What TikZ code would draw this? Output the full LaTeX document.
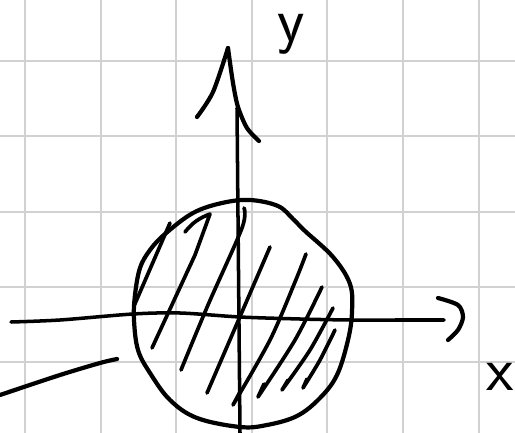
\documentclass[tikz,border=0pt]{standalone}
\usetikzlibrary{positioning}

\tikzset{
  gridline/.style={draw=black!18, line width=1.1pt},
  ink/.style={line width=2pt, line cap=round, line join=round},
  thickink/.style={line width=2.4pt, line cap=round, line join=round},
  hatchline/.style={line width=2.1pt, line cap=round, line join=round},
  lbl/.style={font=\sffamily\fontsize{36}{40}\selectfont, inner sep=0pt}
}

\begin{document}
\begin{tikzpicture}[x=0.02cm, y=-0.02cm]
\useasboundingbox (0,0) rectangle (515,433);
\fill[white] (0,0) rectangle (515,433);

\foreach \gx in {25,100.7,176.3,252,327.3,403,479}
  \draw[gridline] (\gx,0) -- (\gx,433);
\foreach \gy in {60.7,136,211.7,287,362.3}
  \draw[gridline] (0,\gy) -- (515,\gy);

\draw[thickink] plot[smooth cycle, tension=0.6] coordinates {
  (250,200) (278,206) (293,219) (305,231) (333,257) (350,284) (352,312)
  (348,340) (337,375) (320,398) (297,416) (267,425) (240,427) (197,418)
  (170,400) (150,373) (138,350) (134,320) (135,295) (140,268) (150,250)
  (165,234) (193,213) (222,203)};

\draw[hatchline] (134,306) -- (170,223);
\draw[hatchline] (185,232) to[bend left=15] (210,214) -- (195,255) -- (152,348);
\draw[hatchline] plot[smooth] coordinates {(244,208) (242,228) (208,305) (181,370)};
\draw[hatchline] plot[smooth] coordinates {(270,247) (245,305) (207,393)};
\draw[hatchline] plot[smooth] coordinates {(306,254) (295,282) (270,340) (233,405)} -- (241,390);
\draw[hatchline] plot[smooth] coordinates {(322,287) (295,340) (258,397)} -- (264,384);
\draw[hatchline] plot[smooth] coordinates {(333,308) (310,350) (282,390)} -- (288,380);
\draw[hatchline] plot[smooth] coordinates {(335,330) (320,360) (303,388)} -- (307,379);

\draw[ink] plot[smooth] coordinates {(11,322) (60,320) (133,314) (180,313) (240,317)
  (300,319) (350,320) (400,320) (444,320)};
\draw[thickink] plot[smooth] coordinates {(438,298) (458,305) (463,317) (458,330) (448,340)};

\draw[ink] (237,108) -- (240,433);
\draw[thickink] plot[smooth] coordinates {(197,117) (213,92) (228,48)};
\draw[thickink] plot[smooth] coordinates {(228,48) (233,83) (238,107) (247,128) (259,141)};

\draw[thickink] plot[smooth] coordinates {(0,395) (60,375) (100,363) (117,359)};

\node[lbl] (ylabel) at (291,34) {y};
\node[lbl] (xlabel) at (500,377) {x};
\end{tikzpicture}
\end{document}
